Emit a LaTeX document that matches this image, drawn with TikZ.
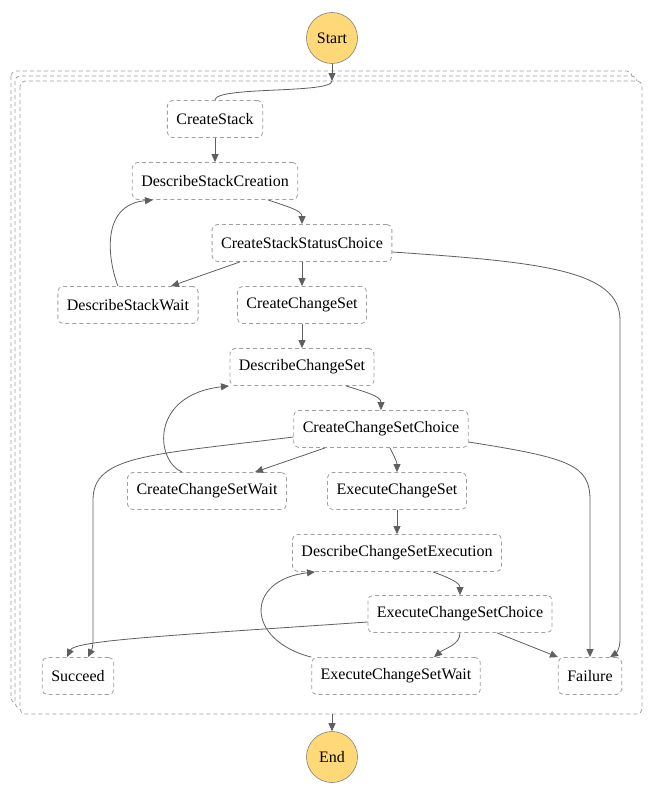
\documentclass[tikz,border=0pt]{standalone}
\usepackage{fontspec}
\setmainfont{Liberation Serif}
\usetikzlibrary{arrows.meta}
\definecolor{boxgray}{RGB}{160,160,160}
\definecolor{edgegray}{RGB}{95,95,95}
\definecolor{termfill}{RGB}{255,217,120}
\begin{document}
\begin{tikzpicture}[x=1pt,y=-1pt,
  task/.style={draw=boxgray,dash pattern=on 4pt off 3pt,line width=0.8pt,rounded corners=5pt,fill=white,
    minimum height=37pt,inner xsep=9pt,font=\fontsize{16}{19}\selectfont},
  terminal/.style={circle,draw=gray,line width=0.6pt,fill=termfill,minimum size=51pt,inner sep=0pt,
    font=\fontsize{16}{19}\selectfont},
  frame/.style={draw=boxgray,dash pattern=on 4pt off 3pt,line width=0.8pt,rounded corners=5pt,fill=white},
  edge/.style={draw=edgegray,line width=0.8pt,-{Triangle[length=8pt,width=7pt]}},
  link/.style={draw=edgegray,line width=0.8pt}]%
\useasboundingbox (0,0) rectangle (654,792);%
%
% stacked frames
\draw[frame] (11,71) rectangle (632,703);%
\draw[frame] (15,76) rectangle (637,708);%
\draw[frame] (20,81) rectangle (642,714);%
\coordinate (intop) at (332,81);%
\coordinate (inbot) at (332,714);%
%
% terminals
\node[terminal] (start) at (332,38) {Start};%
\node[terminal] (end) at (332,757) {End};%
%
% states
\node[task] (cs) at (215,119) {CreateStack};%
\node[task] (dsc) at (215,181) {DescribeStackCreation};%
\node[task] (cssc) at (302,243) {CreateStackStatusChoice};%
\node[task] (dsw) at (128,305) {DescribeStackWait};%
\node[task] (ccs) at (302,305) {CreateChangeSet};%
\node[task] (dcs) at (302,367) {DescribeChangeSet};%
\node[task] (ccsc) at (381,429) {CreateChangeSetChoice};%
\node[task] (ccsw) at (207,491) {CreateChangeSetWait};%
\node[task] (ecs) at (397,491) {ExecuteChangeSet};%
\node[task] (dcse) at (397,553) {DescribeChangeSetExecution};%
\node[task] (ecsc) at (460,614) {ExecuteChangeSetChoice};%
\node[task] (succ) at (78,676) {Succeed};%
\node[task] (ecsw) at (396,676) {ExecuteChangeSetWait};%
\node[task] (fail) at (590,676) {Failure};%
%
% entry and exit
\draw[edge] (start) -- (intop);%
\draw[link] (intop) .. controls (332,94) and (215,86) .. (cs.north);%
\draw[edge] (inbot) -- (end);%
%
% stack creation
\draw[edge] (cs) -- (dsc);%
\draw[edge] ([xshift=53pt]dsc.south) .. controls (285,206) and (302,210) .. (cssc.north);%
\draw[edge] ([xshift=-62pt]cssc.south) -- ([xshift=43pt]dsw.north);%
\draw[edge] ([xshift=-10pt]dsw.north) .. controls (108,260) and (100,205) .. ([xshift=-62pt]dsc.south);%
\draw[edge] (cssc) -- (ccs);%
\draw[edge] ([yshift=-9pt]cssc.east) .. controls (540,262) and (620,270) .. (620,320) -- (620,640)
  .. controls (620,650) and (615,654) .. ([xshift=20pt]fail.north);%
%
% change set
\draw[edge] (ccs) -- (dcs);%
\draw[edge] ([xshift=44pt]dcs.south) .. controls (365,392) and (381,396) .. (ccsc.north);%
\draw[edge] ([xshift=-56pt]ccsc.south) -- ([xshift=48pt]ccsw.north);%
\draw[edge] ([xshift=9pt]ccsc.south) .. controls (395,458) and (397,462) .. (ecs.north);%
\draw[edge] ([xshift=-25pt]ccsw.north) .. controls (155,460) and (150,395) .. ([xshift=-73pt]dcs.south);%
\draw[edge] ([yshift=-8pt]ccsc.west) .. controls (150,455) and (93,455) .. (93,500) -- (93,640)
  .. controls (93,650) and (90,653) .. ([xshift=10pt]succ.north);%
\draw[edge] ([yshift=-13pt]ccsc.east) .. controls (570,458) and (590,465) .. (590,500) -- (fail.north);%
%
% execution
\draw[edge] (ecs) -- (dcse);%
\draw[edge] ([xshift=36pt]dcse.south) .. controls (450,578) and (460,583) .. (ecsc.north);%
\draw[edge] (ecsc.south) .. controls (460,645) and (445,648) .. ([xshift=38pt]ecsw.north);%
\draw[edge] ([xshift=37pt]ecsc.south) -- ([xshift=-32pt]fail.north);%
\draw[edge] (ecsw.north west) .. controls (245,640) and (245,580) .. ([xshift=-82pt]dcse.south);%
\draw[edge] ([yshift=-8pt]ecsc.west) .. controls (180,635) and (75,640) .. ([xshift=-11pt]succ.north);%
%
\end{tikzpicture}
\end{document}
